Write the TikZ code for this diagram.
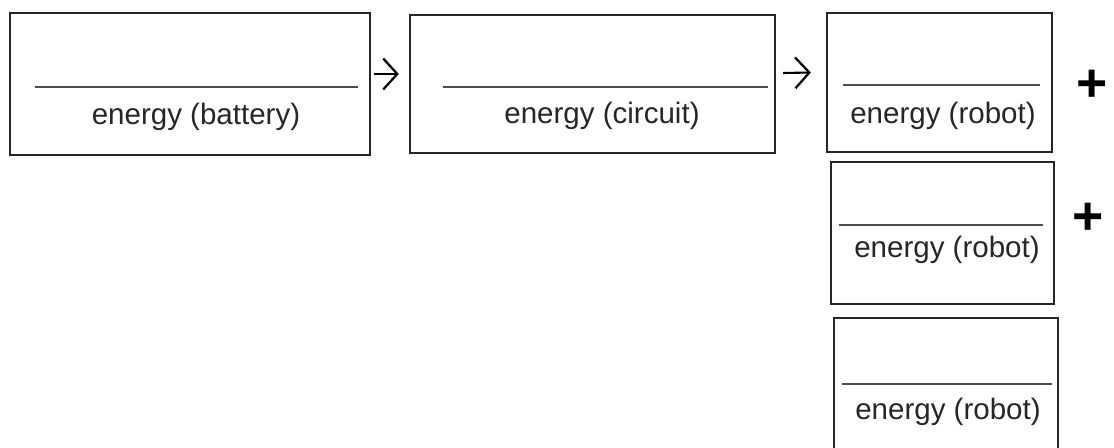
\documentclass[tikz,border=0pt]{standalone}
\usepackage{fontspec}
\setmainfont{Liberation Sans}
\usetikzlibrary{positioning,arrows.meta,calc}

\begin{document}
\begin{tikzpicture}[x=0.025cm,y=-0.025cm,line width=1.6pt,
    font=\fontsize{21}{25}\selectfont,
    box/.style={draw,rectangle,inner sep=0pt,black!85},
    lab/.style={text=black!85,inner sep=0pt},
    rule/.style={line width=2pt,black!70},
    plus/.style={font=\bfseries\fontsize{38}{38}\selectfont,inner sep=0pt},
    arr/.style={-{Straight Barb[length=10pt,width=22pt,line width=1.6pt]},line width=1.5pt}]
  \clip (0,0) rectangle (1114,448);
  % energy stored in the battery
  \node[box,minimum width=9cm,minimum height=3.55cm] (bat) at (190,84) {};
  \draw[rule] (35,87) -- (358,87);
  \node[lab] (batlab) at (196,117) {energy (battery)};
  % energy in the circuit
  \node[box,minimum width=9.125cm,minimum height=3.45cm] (circ) at (592.5,84) {};
  \draw[rule] (443,87) -- (768,87);
  \node[lab] (circlab) at (602,116) {energy (circuit)};
  % three robot parts, stacked
  \node[box,minimum width=5.625cm,minimum height=3.475cm] (robA) at (939.5,82.5) {};
  \draw[rule] (843,85) -- (1040,85);
  \node[lab] (robAlab) at (943,116) {energy (robot)};
  \node[box,minimum width=5.575cm,minimum height=3.55cm] (robB) at (942.5,233) {};
  \draw[rule] (839,225) -- (1043,225);
  \node[lab] (robBlab) at (947,250) {energy (robot)};
  \node[box,minimum width=5.6cm,minimum height=3.55cm] (robC) at (946,389) {};
  \draw[rule] (842,384) -- (1052,384);
  \node[lab] (robClab) at (948,412) {energy (robot)};
  % plus signs between the robot parts
  \node[plus] (plusA) at (1092,86) {+};
  \node[plus] (plusB) at (1088,219) {+};
  % transfer arrows
  \draw[arr] ($(bat.east)+(3,-10)$) -- ($(circ.west)+(-10,-10)$);
  \draw[arr] ($(circ.east)+(7,-11)$) -- ($(robA.west)+(-15,-10)$);
\end{tikzpicture}
\end{document}
